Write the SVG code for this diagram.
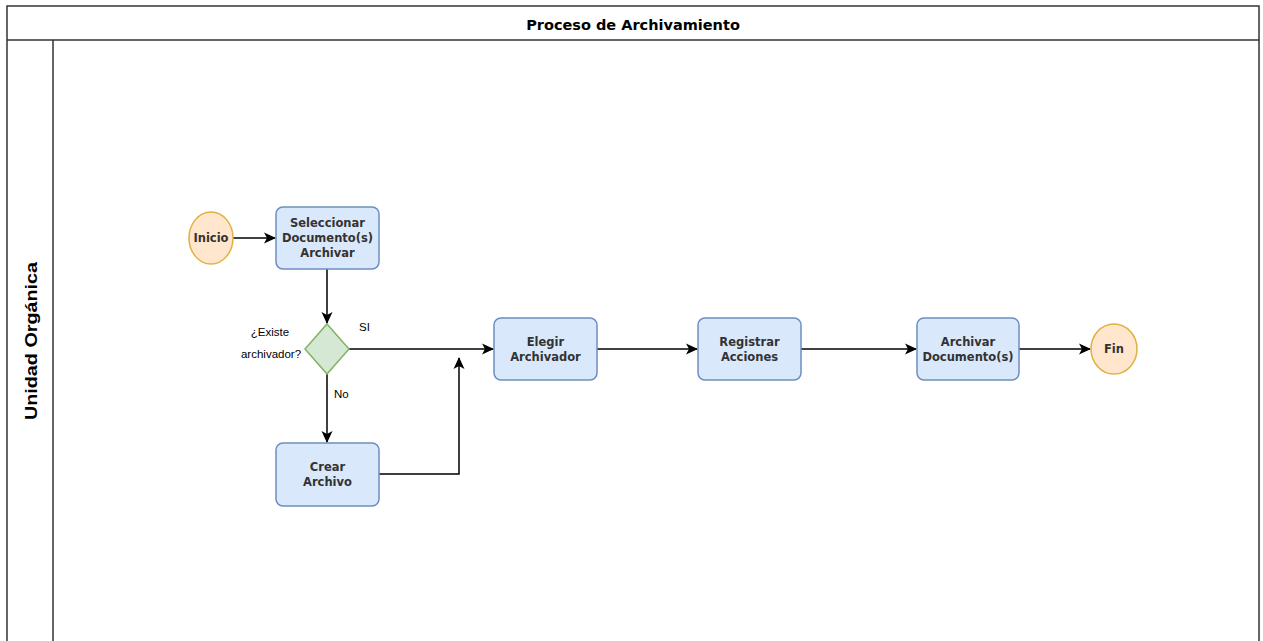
<svg xmlns="http://www.w3.org/2000/svg" width="1263" height="641" viewBox="0 0 1263 641">
<defs>
<marker id="arr" viewBox="0 0 12 12" refX="11" refY="6" markerWidth="12" markerHeight="12" markerUnits="userSpaceOnUse" orient="auto">
<path d="M0,0.5 L12,6 L0,11.5 L3,6 Z" fill="#000"/>
</marker>
</defs>
<style>
.box{fill:#dae8fc;stroke:#6c8ebf;stroke-width:1.5}
.term{fill:#ffe6cc;stroke:#e0b040;stroke-width:1.5}
.dec{fill:#d5e8d4;stroke:#82b366;stroke-width:1.5}
.t{font-family:"DejaVu Sans",Verdana,sans-serif;font-size:11.5px;font-weight:bold;fill:#333;text-anchor:middle}
.lbl{font-family:"Liberation Sans",Arial,sans-serif;font-size:11.5px;fill:#000}
.edge{fill:none;stroke:#000;stroke-width:1.5;marker-end:url(#arr)}
.frame{fill:none;stroke:#333;stroke-width:1.5}
</style>
<rect width="1263" height="641" fill="#fff"/>
<g id="pool">
<path class="frame" d="M7,641 V6 H1259 V641"/>
<line class="frame" x1="7" y1="40" x2="1259" y2="40"/>
<line class="frame" x1="53" y1="40" x2="53" y2="641"/>
<text x="633" y="30" font-family="DejaVu Sans,Verdana,sans-serif" font-size="14.5" font-weight="bold" text-anchor="middle" fill="#000">Proceso de Archivamiento</text>
<text transform="translate(37,341) rotate(-90)" font-family="Liberation Sans,Arial,sans-serif" font-size="17" font-weight="bold" text-anchor="middle" textLength="158" lengthAdjust="spacingAndGlyphs" fill="#000">Unidad Orgánica</text>
</g>
<g id="connectors">
<line class="edge" x1="233" y1="238" x2="275" y2="238"/>
<line class="edge" x1="327" y1="269" x2="327" y2="323"/>
<line class="edge" x1="349" y1="349" x2="493" y2="349"/>
<line class="edge" x1="327" y1="374" x2="327" y2="442"/>
<polyline class="edge" points="379,474 459,474 459,358"/>
<line class="edge" x1="597" y1="349" x2="697" y2="349"/>
<line class="edge" x1="801" y1="349" x2="916" y2="349"/>
<line class="edge" x1="1019" y1="349" x2="1090" y2="349"/>
<text class="lbl" x="359" y="331">SI</text>
<text class="lbl" x="334" y="398">No</text>
</g>
<g id="inicio">
<ellipse class="term" cx="211" cy="238" rx="22" ry="26"/>
<text class="t" x="211" y="242">Inicio</text>
</g>
<g id="seleccionar">
<rect class="box" x="276" y="207" width="103" height="62" rx="7"/>
<text class="t" x="327.5" y="227">Seleccionar</text>
<text class="t" x="327.5" y="242">Documento(s)</text>
<text class="t" x="327.5" y="257">Archivar</text>
</g>
<g id="decision">
<polygon class="dec" points="327,324 349,349 327,374 305,349"/>
<text class="lbl" x="270" y="336" text-anchor="middle">¿Existe</text>
<text class="lbl" x="271" y="358" text-anchor="middle">archivador?</text>
</g>
<g id="crear">
<rect class="box" x="276" y="443" width="103" height="63" rx="7"/>
<text class="t" x="327.5" y="471">Crear</text>
<text class="t" x="327.5" y="486">Archivo</text>
</g>
<g id="elegir">
<rect class="box" x="494" y="318" width="103" height="62" rx="7"/>
<text class="t" x="545.5" y="346">Elegir</text>
<text class="t" x="545.5" y="361">Archivador</text>
</g>
<g id="registrar">
<rect class="box" x="698" y="318" width="103" height="62" rx="7"/>
<text class="t" x="749.5" y="346">Registrar</text>
<text class="t" x="749.5" y="361">Acciones</text>
</g>
<g id="archivar">
<rect class="box" x="917" y="318" width="102" height="62" rx="7"/>
<text class="t" x="968" y="346">Archivar</text>
<text class="t" x="968" y="361">Documento(s)</text>
</g>
<g id="fin">
<ellipse class="term" cx="1114" cy="349" rx="23" ry="25"/>
<text class="t" x="1114" y="353">Fin</text>
</g>
</svg>
